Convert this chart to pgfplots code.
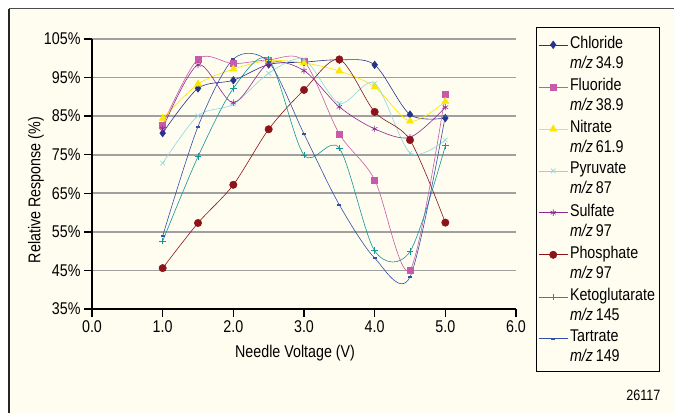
\documentclass[border=0pt]{standalone}
\usepackage{pgfplots}
\pgfplotsset{compat=1.18}
\usepackage{fontspec}
\setmainfont{Liberation Sans}[FakeStretch=0.84]
\definecolor{bg}{RGB}{254,253,240}
\definecolor{chl}{RGB}{40,50,140}
\definecolor{flu}{RGB}{200,90,170}
\definecolor{nit}{RGB}{250,230,0}
\definecolor{pyr}{RGB}{140,215,230}
\definecolor{sul}{RGB}{140,40,145}
\definecolor{pho}{RGB}{140,20,25}
\definecolor{ket}{RGB}{20,150,150}
\definecolor{tar}{RGB}{50,80,170}
\definecolor{gridc}{RGB}{160,160,160}
\begin{document}
\begin{tikzpicture}
\path[use as bounding box] (0pt,0pt) rectangle (674pt,413pt);
\fill[white] (0pt,0pt) rectangle (674pt,413pt);
\fill[bg] (8.5pt,0pt) rectangle (674pt,404pt);
\draw[line width=2pt, black!85] (8.5pt,0pt) -- (8.5pt,404pt);
\draw[line width=1pt, black!70] (8.5pt,404pt) -- (674pt,404pt);
\begin{axis}[
  at={(92pt,104pt)}, anchor=south west,
  scale only axis, width=424pt, height=270pt,
  xmin=0, xmax=6, ymin=35, ymax=105,
  xtick={0,1,2,3,4,5,6}, ytick={35,45,55,65,75,85,95,105},
  axis lines*=left, axis line style={line width=1.8pt, black, -},
  ymajorgrids, grid style={gridc, line width=1.8pt},
  tick align=outside, major tick length=8pt,
  tick style={black, line width=1.5pt},
  font=\fontsize{17}{20}\selectfont,
  /pgf/number format/assume math mode=true,
  xticklabel={\pgfmathprintnumber[fixed,precision=1,zerofill]{\tick}},
  yticklabel={\pgfmathprintnumber{\tick}\%},
  xlabel={Needle Voltage (V)},
  ylabel={Relative Response (\%)},
  xlabel style={at={(axis description cs:0.479,-0.163)}, anchor=center},
  ylabel style={at={(axis description cs:-0.132,0.44)}, anchor=center},
  every axis plot/.append style={smooth, line width=0.6pt},
  legend style={at={(axis description cs:1.0472,1.0444)}, anchor=north west,
    draw=black, line width=0.8pt, fill=bg, inner xsep=2pt, inner ysep=6.5pt,
    row sep=4.3pt, cells={align=left}, font=\fontsize{17}{20}\selectfont},
  legend cell align=left,
  legend image code/.code={\draw[mark repeat=2,mark phase=2, yshift=8pt] plot coordinates {(0pt,0pt) (14.5pt,0pt) (29pt,0pt)};},
]
\addplot[chl, mark=diamond*, mark size=3.8pt, mark options={line width=0.5pt}] coordinates {
 (1,80.6) (1.5,92.2) (2,94.3) (2.5,98.4) (3,99.0) (3.5,99.6) (4,98.3) (4.5,85.4) (5,84.5)};
\addlegendentry{Chloride\\\textit{m/z}\,34.9}
\addplot[flu, mark=square*, mark size=3pt, mark options={line width=0.5pt}] coordinates {
 (1,82.7) (1.5,99.8) (2,98.6) (2.5,99.6) (3,99.3) (3.5,80.4) (4,68.5) (4.5,45.1) (5,90.6)};
\addlegendentry{Fluoride\\\textit{m/z}\,38.9}
\addplot[nit, mark=triangle*, mark size=4pt, mark options={line width=0.5pt}] coordinates {
 (1,84.4) (1.5,93.3) (2,97.2) (2.5,99.4) (3,98.8) (3.5,96.7) (4,92.6) (4.5,83.7) (5,88.8)};
\addlegendentry{Nitrate\\\textit{m/z}\,61.9}
\addplot[pyr, mark=x, mark size=3.2pt, mark options={line width=0.6pt}] coordinates {
 (1,72.8) (1.5,85.1) (2,88.1) (2.5,96.1) (3,99.7) (3.5,88.3) (4,93.5) (4.5,75.5) (5,78.8)};
\addlegendentry{Pyruvate\\\textit{m/z}\,87}
\addplot[sul, mark=asterisk, mark size=3.2pt, mark options={line width=0.6pt}] coordinates {
 (1,81.8) (1.5,98.3) (2,88.5) (2.5,98.7) (3,96.8) (3.5,87.4) (4,81.7) (4.5,79.5) (5,87.3)};
\addlegendentry{Sulfate\\\textit{m/z}\,97}
\addplot[pho, mark=*, mark size=3.7pt, mark options={line width=0.5pt}] coordinates {
 (1,45.6) (1.5,57.3) (2,67.2) (2.5,81.6) (3,91.8) (3.5,99.7) (4,86.1) (4.5,78.8) (5,57.4)};
\addlegendentry{Phosphate\\\textit{m/z}\,97}
\addplot[ket, mark=+, mark size=3.3pt, mark options={line width=0.8pt}] coordinates {
 (1,52.6) (1.5,74.5) (2,92.2) (2.5,99.7) (3,74.9) (3.5,76.7) (4,50.1) (4.5,49.9) (5,77.3)};
\addlegendentry{Ketoglutarate\\\textit{m/z}\,145}
\addplot[tar, mark=-, mark size=2pt, mark options={line width=2pt}] coordinates {
 (1,53.9) (1.5,82.3) (2,99.8) (2.5,99.0) (3,80.4) (3.5,62.0) (4,48.2) (4.5,43.3) (5,85.1)};
\addlegendentry{Tartrate\\\textit{m/z}\,149}
\end{axis}
\node[anchor=east, font=\fontsize{15}{17}\selectfont] at (664pt,18pt) {26117};
\end{tikzpicture}
\end{document}
